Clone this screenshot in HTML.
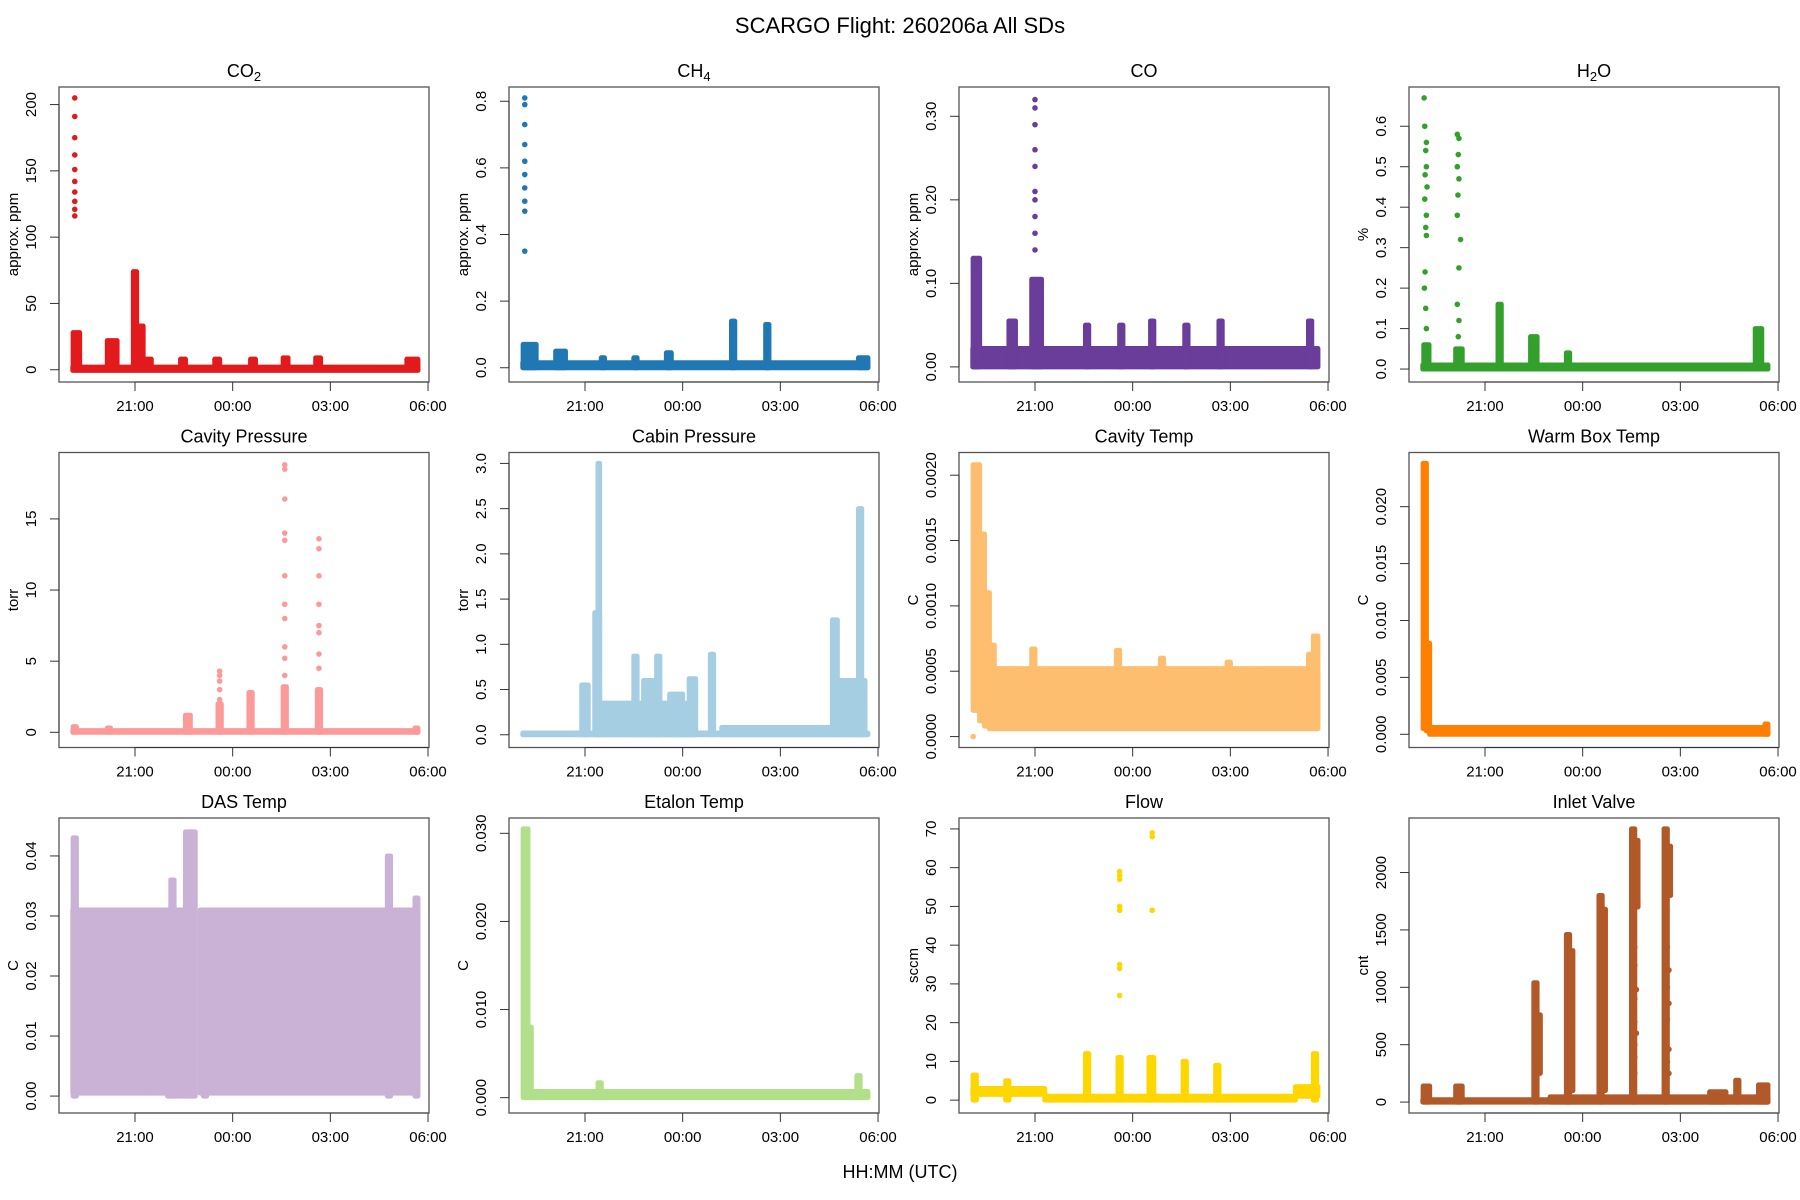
<!DOCTYPE html>
<html><head><meta charset="utf-8">
<style>
html,body{margin:0;padding:0;background:#fff;}
svg{display:block;font-family:"Liberation Sans",sans-serif;}
</style></head>
<body>
<svg id="fig" width="1800" height="1200" viewBox="0 0 1800 1200" xmlns="http://www.w3.org/2000/svg">
<text x="900" y="33" font-size="22" text-anchor="middle">SCARGO Flight: 260206a  All SDs</text>
<text x="900" y="1178" font-size="18" text-anchor="middle">HH:MM (UTC)</text>
</svg>
<script>
// time in hours since 18:00
const xTicks=[3,6,9,12];
const xTickLabels=["21:00","00:00","03:00","06:00"];
const titles=["CO2","CH4","CO","H2O","Cavity Pressure","Cabin Pressure","Cavity Temp","Warm Box Temp","DAS Temp","Etalon Temp","Flow","Inlet Valve"];
const yLabels=["approx. ppm","approx. ppm","approx. ppm","%","torr","torr","C","C","C","C","sccm","cnt"];
const colors=["#E31A1C","#1F78B4","#6A3D9A","#33A02C","#FB9A99","#A6CEE3","#FDBF6F","#FF7F00","#CAB2D6","#B2DF8A","#FFD700","#B15928"];
const yRanges=[[-1,205],[-0.01,0.81],[-0.005,0.322],[-0.005,0.67],[-0.3,18.9],[-0.02,3.0],[0,0.00209],[-0.0002,0.0238],[-0.001,0.0445],[-0.0005,0.0305],[-0.5,70],[0,2380]];
const yTicks=[[0,50,100,150,200],[0,0.2,0.4,0.6,0.8],[0,0.1,0.2,0.3],[0,0.1,0.2,0.3,0.4,0.5,0.6],[0,5,10,15],[0,0.5,1,1.5,2,2.5,3],[0,0.0005,0.001,0.0015,0.002],[0,0.005,0.01,0.015,0.02],[0,0.01,0.02,0.03,0.04],[0,0.01,0.02,0.03],[0,10,20,30,40,50,60,70],[0,500,1000,1500,2000]];
const yTickLabels=[["0","50","100","150","200"],["0.0","0.2","0.4","0.6","0.8"],["0.00","0.10","0.20","0.30"],["0.0","0.1","0.2","0.3","0.4","0.5","0.6"],["0","5","10","15"],["0.0","0.5","1.0","1.5","2.0","2.5","3.0"],["0.0000","0.0005","0.0010","0.0015","0.0020"],["0.000","0.005","0.010","0.015","0.020"],["0.00","0.01","0.02","0.03","0.04"],["0.000","0.010","0.020","0.030"],["0","10","20","30","40","50","60","70"],["0","500","1000","1500","2000"]];
// bands: [t0,t1,low,high] dense point clouds
const bands=[
 [[1.09,11.69,-0.5,2],[1.1,1.3,0,28],[2.15,2.45,0,22],[2.95,3.05,0,74],[3.05,3.25,0,33],[3.25,3.5,0,8],[4.4,4.55,0,8],[5.45,5.6,0,8],[6.55,6.7,0,8],[7.55,7.7,0,9],[8.55,8.7,0,9],[11.35,11.69,0,8]],
 [[1.09,11.69,0,0.015],[1.1,1.5,0,0.07],[2.1,2.4,0,0.05],[3.5,3.6,0,0.03],[4.5,4.6,0,0.03],[5.5,5.65,0,0.045],[7.5,7.6,0,0.14],[8.55,8.65,0,0.13],[11.4,11.69,0,0.03]],
 [[1.09,11.69,0,0.022],[1.1,1.3,0,0.13],[2.2,2.4,0,0.055],[2.9,3.2,0,0.105],[4.55,4.65,0,0.05],[5.6,5.7,0,0.05],[6.55,6.65,0,0.055],[7.6,7.7,0,0.05],[8.65,8.75,0,0.055],[11.4,11.5,0,0.055]],
 [[1.09,11.69,0,0.01],[1.12,1.28,0,0.06],[2.1,2.3,0,0.05],[3.4,3.5,0,0.16],[4.4,4.6,0,0.08],[5.5,5.6,0,0.04],[11.3,11.5,0,0.1]],
 [[1.09,11.69,0,0.12],[1.1,1.2,0,0.4],[2.15,2.25,0,0.3],[4.55,4.7,0,1.2],[5.55,5.65,0,2],[6.5,6.6,0,2.8],[7.55,7.65,0,3.2],[8.6,8.7,0,3],[11.6,11.69,0,0.3]],
 [[1.09,11.69,0,0.02],[2.9,3.1,0,0.55],[3.3,3.45,0,1.35],[3.4,3.45,0,3.0],[3.45,6.3,0,0.35],[4.5,4.6,0,0.87],[4.8,5.3,0,0.6],[5.2,5.3,0,0.87],[5.6,6.0,0,0.45],[6.2,6.4,0,0.62],[6.85,6.95,0,0.89],[7.2,10.6,0,0.08],[10.6,10.75,0,1.27],[10.75,11.6,0,0.6],[11.4,11.5,0,2.5]],
 [[1.1,1.3,0.0002,0.00208],[1.3,1.45,0.00012,0.00155],[1.45,1.6,0.00008,0.0011],[1.6,11.69,0.00006,0.00052],[1.6,1.75,0.00008,0.0007],[2.9,3.0,0.0001,0.00067],[5.5,5.6,0.0001,0.00066],[6.85,6.95,0.0001,0.0006],[8.9,9.0,0.0001,0.00057],[11.4,11.45,0.0001,0.00063],[11.55,11.69,0.0001,0.00077]],
 [[1.1,1.2,0.0005,0.0238],[1.2,1.3,0.0003,0.008],[1.3,11.69,0,0.0006],[11.6,11.69,0,0.0009]],
 [[1.09,3.3,0.0005,0.031],[1.1,1.2,0,0.043],[3.3,4.0,0.0005,0.031],[4.0,4.6,0,0.031],[4.1,4.2,0,0.036],[4.55,4.7,0,0.044],[4.7,4.85,0,0.044],[5.0,11.69,0.0005,0.031],[5.1,5.2,0,0.031],[10.75,10.85,0,0.04],[11.6,11.69,0,0.033]],
 [[1.1,1.25,0,0.0305],[1.25,1.35,0,0.008],[1.35,11.69,0,0.0007],[3.4,3.5,0,0.0017],[11.35,11.45,0,0.0025]],
 [[1.09,3.3,1.5,3],[1.1,1.2,0,6.5],[2.1,2.2,0,5],[3.3,11.0,0,1],[4.55,4.65,0,12],[5.55,5.65,0,11],[6.5,6.65,0,11],[7.55,7.65,0,10],[8.55,8.65,0,9],[11.0,11.69,1,3.5],[11.55,11.65,0,12]],
 [[1.09,11.69,0,20],[5,11.69,0,45],[1.1,1.3,0,140],[2.1,2.3,0,140],[4.5,4.6,0,1040],[4.6,4.7,250,760],[5.5,5.6,0,1460],[5.6,5.7,100,1320],[6.5,6.6,0,1800],[6.6,6.7,100,1680],[7.5,7.6,0,2380],[7.6,7.7,1700,2280],[8.5,8.6,0,2380],[8.6,8.7,1800,2230],[10.7,10.8,0,190],[11.4,11.69,0,150],[9.9,10.4,0,90]]
];
// isolated points: [t,value]
const points=[
 [[1.15,205],[1.15,191],[1.15,175],[1.15,162],[1.15,151],[1.15,142],[1.15,134],[1.15,127],[1.15,121],[1.15,116]],
 [[1.15,0.81],[1.15,0.79],[1.15,0.73],[1.15,0.67],[1.15,0.62],[1.15,0.58],[1.15,0.54],[1.15,0.5],[1.15,0.47],[1.15,0.35]],
 [[3.0,0.32],[3.0,0.31],[3.0,0.29],[3.0,0.26],[3.0,0.24],[3.0,0.21],[3.0,0.2],[3.0,0.18],[3.0,0.16],[3.0,0.14]],
 [[1.13,0.67],[1.15,0.6],[1.2,0.56],[1.18,0.54],[1.2,0.5],[1.16,0.48],[1.22,0.45],[1.15,0.42],[1.2,0.38],[1.18,0.35],[1.2,0.33],[1.16,0.24],[1.14,0.2],[1.18,0.15],[1.2,0.1],[2.15,0.58],[2.2,0.57],[2.18,0.53],[2.15,0.5],[2.2,0.47],[2.17,0.43],[2.15,0.38],[2.25,0.32],[2.2,0.25],[2.15,0.16],[2.2,0.12],[2.18,0.08]],
 [[5.6,4.3],[5.6,4],[5.6,3.6],[5.6,3],[5.6,2.3],[6.55,2.8],[6.55,2.2],[7.6,18.8],[7.6,18.5],[7.6,16.4],[7.6,14],[7.6,13.5],[7.6,11],[7.6,9],[7.6,8],[7.6,6],[7.6,5.2],[7.6,4],[8.65,13.6],[8.65,12.9],[8.65,11],[8.65,9],[8.65,7.5],[8.65,7],[8.65,5.5],[8.65,4.5],[8.65,3]],
 [],
 [[1.1,0]],
 [],[],[],
 [[5.6,59],[5.6,58],[5.6,57],[5.6,50],[5.6,49],[5.6,35],[5.6,34],[5.6,27],[6.6,69],[6.6,68],[6.6,49]],
 [[4.55,350],[4.6,330],[5.6,900],[5.65,800],[5.6,600],[5.65,550],[5.6,400],[6.6,1000],[6.65,820],[6.6,700],[6.65,520],[6.6,410],[7.6,1350],[7.6,1190],[7.65,980],[7.6,900],[7.6,700],[7.65,600],[7.6,500],[7.6,390],[7.6,250],[8.6,1350],[8.65,1150],[8.6,1000],[8.65,860],[8.6,720],[8.65,460],[8.6,350],[8.65,250]]
];
const NS="http://www.w3.org/2000/svg";
const svg=document.getElementById('fig');
function mk(tag,attrs,parent){const e=document.createElementNS(NS,tag);for(const k in attrs)e.setAttribute(k,attrs[k]);(parent||svg).appendChild(e);return e;}
const W=370,H=295;
function xScale(x0,t){const tmin=0.666,tmax=12.03;return x0+(t-tmin)/(tmax-tmin)*W;}
function yScale(y0,r,v){const pad=(r[1]-r[0])*0.04;const lo=r[0]-pad,hi=r[1]+pad;return y0+H-(v-lo)/(hi-lo)*H;}
for(let i=0;i<12;i++){
 const col=i%4,row=Math.floor(i/4);
 const x0=59+450*col,y0=87+365.5*row;
 const g=mk('g',{});
 
 
 const r=yRanges[i],c=colors[i];
 // title
 const tt=mk('text',{x:x0+W/2,y:y0-10,'font-size':18,'text-anchor':'middle'},g);
 
 
 if(i<4&&i!==2){const m={0:['CO','2'],1:['CH','4'],3:['H','2','O']}[i];
  tt.textContent=m[0];const s=mk('tspan',{'font-size':13,dy:4},tt);s.textContent=m[1];
  if(m[2]){const s2=mk('tspan',{dy:-4},tt);s2.textContent=m[2];}
 } else tt.textContent=titles[i];
 // marks
 bands[i].forEach(b=>{
  const xa=xScale(x0,b[0])-2.5,xb=xScale(x0,b[1])+2.5;
  const ya=yScale(y0,r,b[3])-2.5,yb=yScale(y0,r,b[2])+2.5;
  const rc=mk('rect',{x:xa,y:ya,width:xb-xa,height:yb-ya,rx:2.5,fill:c},g);
  
  
 });
 points[i].forEach(p=>{
  const ci=mk('circle',{cx:xScale(x0,p[0]),cy:yScale(y0,r,p[1]),r:2.8,fill:c},g);
  
  
 });
 // box
 const bx=mk('rect',{x:x0,y:y0,width:W,height:H,fill:'none',stroke:'#555','stroke-width':1.3},g);
 
 
 // x axis
 const xa=mk('line',{x1:xScale(x0,xTicks[0]),x2:xScale(x0,xTicks[xTicks.length-1]),y1:y0+H,y2:y0+H,stroke:'#333'},g);
 
 
 xTicks.forEach((t,k)=>{const xx=xScale(x0,t);
  mk('line',{x1:xx,x2:xx,y1:y0+H,y2:y0+H+9,stroke:'#333'},g);
  const tl=mk('text',{x:xx,y:y0+H+29,'font-size':15,'text-anchor':'middle'},g);
  
  
  tl.textContent=xTickLabels[k];});
 // y axis
 const yt=yTicks[i];
 const ya=mk('line',{x1:x0,x2:x0,y1:yScale(y0,r,yt[0]),y2:yScale(y0,r,yt[yt.length-1]),stroke:'#333'},g);
 
 
 yt.forEach((v,k)=>{const yy=yScale(y0,r,v);
  mk('line',{x1:x0-9,x2:x0,y1:yy,y2:yy,stroke:'#333'},g);
  const tl=mk('text',{x:x0-23,y:yy,'font-size':15,'text-anchor':'middle',transform:`rotate(-90 ${x0-23} ${yy})`},g);
  
  
  tl.textContent=yTickLabels[i][k];});
 const yl=mk('text',{x:x0-41,y:y0+H/2,'font-size':15,'text-anchor':'middle',transform:`rotate(-90 ${x0-41} ${y0+H/2})`},g);
 
 
 yl.textContent=yLabels[i];
}
</script>
</body></html>
